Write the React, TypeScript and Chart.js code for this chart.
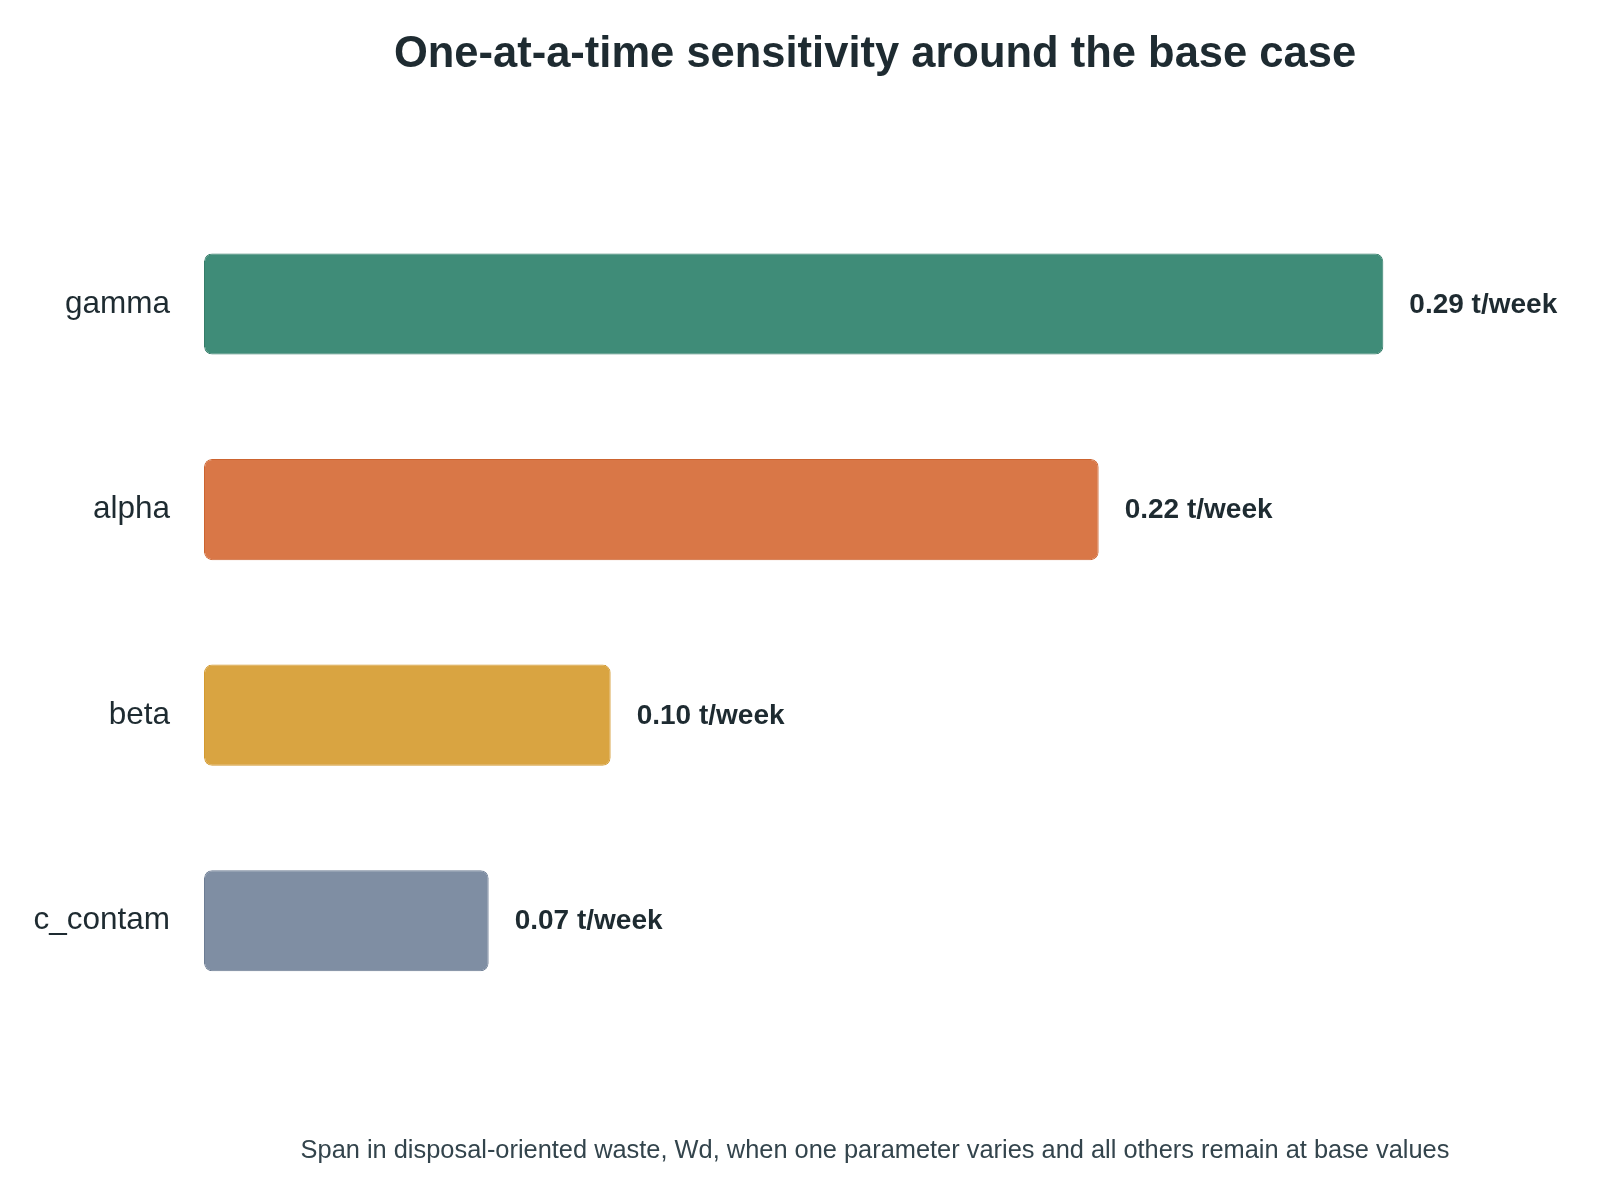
import React, { useEffect, useRef } from "react";
import { Chart, registerables } from "chart.js";

Chart.register(...registerables);

const parameters = ["gamma", "alpha", "beta", "c_contam"];
const spanValues = [0.29, 0.22, 0.10, 0.07];
const valueLabels = ["0.29 t/week", "0.22 t/week", "0.10 t/week", "0.07 t/week"];
const fillColors = ["#3F8C78", "#D97747", "#D9A441", "#7F8EA3"];
const edgeColors = ["#347D69", "#CC6430", "#D39A30", "#6C7C93"];

const titleText = "One-at-a-time sensitivity around the base case";
const axisTitleText =
  "Span in disposal-oriented waste, Wd, when one parameter varies and all others remain at base values";

const ARIAL = "'Liberation Sans', Arial, Helvetica, sans-serif";

const valueLabelPlugin = {
  id: "valueLabels",
  afterDatasetsDraw(chart: any) {
    const { ctx } = chart;
    const meta = chart.getDatasetMeta(0);
    ctx.save();
    ctx.font = `bold 28px ${ARIAL}`;
    ctx.fillStyle = "#1E2B31";
    ctx.textAlign = "left";
    ctx.textBaseline = "middle";
    meta.data.forEach((bar: any, i: number) => {
      ctx.fillText(valueLabels[i], bar.x + 26, bar.y + 1);
    });
    ctx.restore();
  },
};

export default function App() {
  const canvasRef = useRef<HTMLCanvasElement | null>(null);

  useEffect(() => {
    document.body.style.margin = "0";
    const canvas = canvasRef.current;
    if (!canvas) return;
    const chart = new Chart(canvas, {
      type: "bar",
      data: {
        labels: parameters,
        datasets: [
          {
            data: spanValues,
            backgroundColor: fillColors,
            borderColor: edgeColors,
            borderWidth: 1,
            borderRadius: 8,
            borderSkipped: false,
            barPercentage: 0.6,
            categoryPercentage: 0.82,
          },
        ],
      },
      options: {
        indexAxis: "y",
        animation: false,
        responsive: false,
        maintainAspectRatio: false,
        devicePixelRatio: 1,
        layout: { padding: { left: 0, right: 54, top: 0, bottom: 0 } },
        plugins: {
          legend: { display: false },
          tooltip: { enabled: false },
          title: {
            display: true,
            text: titleText,
            fullSize: false,
            color: "#1E2B31",
            font: { family: ARIAL, size: 43.5, weight: "bold", lineHeight: 1.2 },
            padding: { top: 29, bottom: 120 },
          },
        },
        scales: {
          x: {
            min: 0,
            max: 0.33,
            grid: { display: false, drawTicks: false },
            border: { display: false },
            ticks: { display: false },
            title: {
              display: true,
              text: axisTitleText,
              color: "#33444C",
              font: { family: ARIAL, size: 25.4, lineHeight: 1.2 },
              padding: { top: 112, bottom: 34 },
            },
          },
          y: {
            grid: { display: false, drawTicks: false },
            border: { display: false },
            ticks: {
              color: "#1E2B31",
              font: { family: ARIAL, size: 31.5 },
              padding: 34,
            },
            afterFit: (scale: any) => {
              scale.width = 204;
            },
          },
        },
      },
      plugins: [valueLabelPlugin],
    });
    return () => chart.destroy();
  }, []);

  return (
    <div style={{ position: "absolute", left: 0, top: 0, width: 1600, height: 1200, background: "#ffffff" }}>
      <canvas ref={canvasRef} width={1600} height={1200} style={{ width: 1600, height: 1200, display: "block" }} />
    </div>
  );
}
